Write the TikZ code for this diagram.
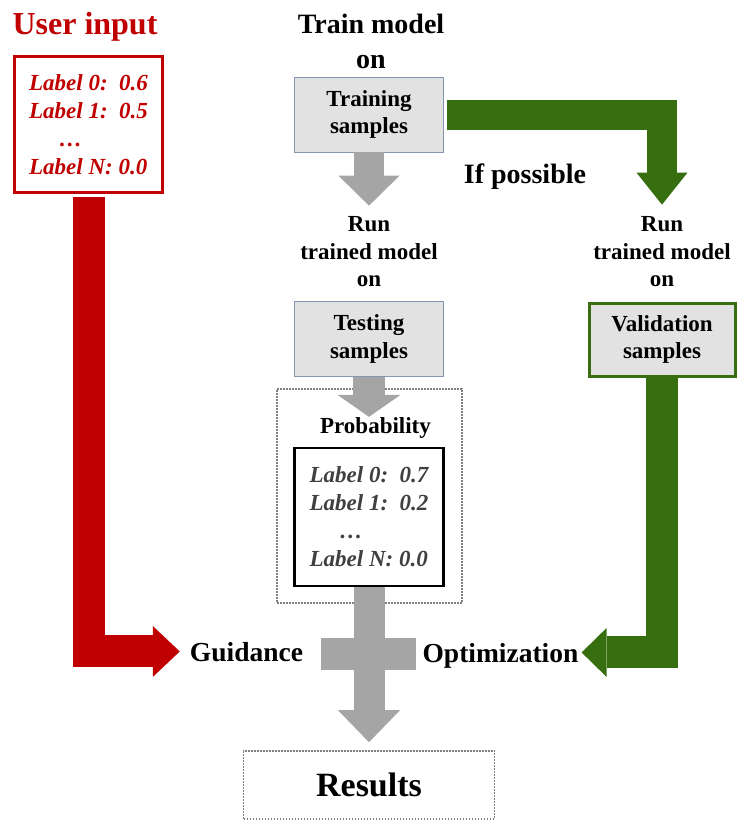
\documentclass[tikz,border=0pt]{standalone}
\usepackage{fontspec}
\setmainfont{Liberation Serif}
\usetikzlibrary{arrows.meta}

\definecolor{ured}{RGB}{192,0,0}
\definecolor{vgreen}{RGB}{55,110,16}
\definecolor{agray}{RGB}{165,165,165}
\definecolor{bfill}{RGB}{226,226,226}
\definecolor{bline}{RGB}{132,151,176}
\definecolor{ltext}{RGB}{64,64,64}

\begin{document}
\begin{tikzpicture}[x=1pt,y=-1pt,
    big/.style={font=\fontsize{28}{35}\selectfont\bfseries, inner sep=0pt},
    side/.style={font=\fontsize{27.5}{33}\selectfont\bfseries, inner sep=0pt, text depth=0pt},
    mid/.style={font=\fontsize{23}{27.5}\selectfont\bfseries, align=center},
    lbl/.style={font=\fontsize{23}{28}\selectfont\bfseries\itshape, align=left},
    sbox/.style={mid, draw=bline, fill=bfill, line width=0.8pt, minimum width=149pt, minimum height=75pt},
    dotbox/.style={draw=gray, dash pattern=on 1.6pt off 1.4pt, line width=1.6pt},
    blk/.style n args={4}{draw=#1, line width=#2, line join=miter,
      -{Triangle[length=#3, width=#4, line width=0pt]}}]
      \useasboundingbox (0,0) rectangle (737,820);
      %titles
      \node[big, font=\fontsize{32}{38}\selectfont\bfseries, text=ured, anchor=base] (user) at (85,34) {User input};
      \node[big, align=center] (train) at (371,41) {Train model\\on};
      \node[big, anchor=base] (possible) at (525,183) {If possible};
      %boxes
      \node[draw=ured, line width=3pt, minimum width=148pt, minimum height=136pt, lbl, text=ured] (inbox) at (88.5,124.5)
        {Label 0:\ \ 0.6\\Label 1:\ \ 0.5\\\hspace*{30pt}\ldots\\Label N: 0.0};
      \node[sbox] (trainbox) at (369,114.5) {Training\\samples};
      \node[mid, inner sep=0pt] (runl) at (369,252) {Run\\trained model\\on};
      \node[mid, inner sep=0pt] (runr) at (662,252) {Run\\trained model\\on};
      \node[sbox] (testbox) at (369,339) {Testing\\samples};
      \node[sbox, draw=vgreen, line width=3pt, minimum width=146pt, minimum height=73pt] (validbox) at (662,339.5) {Validation\\samples};
      \node[dotbox, minimum width=185pt, minimum height=214pt] (probframe) at (369.5,496) {};
      \node[mid, inner sep=0pt, anchor=base] (probtitle) at (375.5,433) {Probability};
      \node[draw, line width=2.5pt, minimum width=149pt, minimum height=138pt, lbl, text=ltext] (probbox) at (369,517)
        {Label 0:\ \ 0.7\\Label 1:\ \ 0.2\\\hspace*{30pt}\ldots\\Label N: 0.0};
      \node[fill=agray, minimum width=95pt, minimum height=32pt, inner sep=0pt] (merge) at (368,654) {};
      \node[side, anchor=base] (guide) at (246.5,661) {Guidance};
      \node[side, anchor=base] (optim) at (500.5,662) {Optimization};
      \node[dotbox, minimum width=251pt, minimum height=68pt, font=\fontsize{34}{40}\selectfont\bfseries] (results) at (369,785) {Results};
      %gray flow
      \draw[blk={agray}{30pt}{30pt}{61pt}, shorten >=11pt] (trainbox.south) -- (runl.north);
      \draw[blk={agray}{32pt}{22pt}{63pt}] (testbox.south) -- (testbox.south |- probtitle.north);
      \draw[blk={agray}{31pt}{32pt}{62pt}, shorten >=8pt] (probbox.south) -- (results.north);
      %green
      \draw[blk={vgreen}{30pt}{32pt}{51pt}, shorten <=3pt, shorten >=12pt] (trainbox.east) -| (runr.north);
      \draw[blk={vgreen}{32pt}{25pt}{49pt}, shorten >=3pt] (validbox.south) |- (optim.east);
      %red
      \draw[blk={ured}{32pt}{27pt}{51pt}, shorten <=3pt, shorten >=10pt] (inbox.south) |- (guide.west);
\end{tikzpicture}
\end{document}
